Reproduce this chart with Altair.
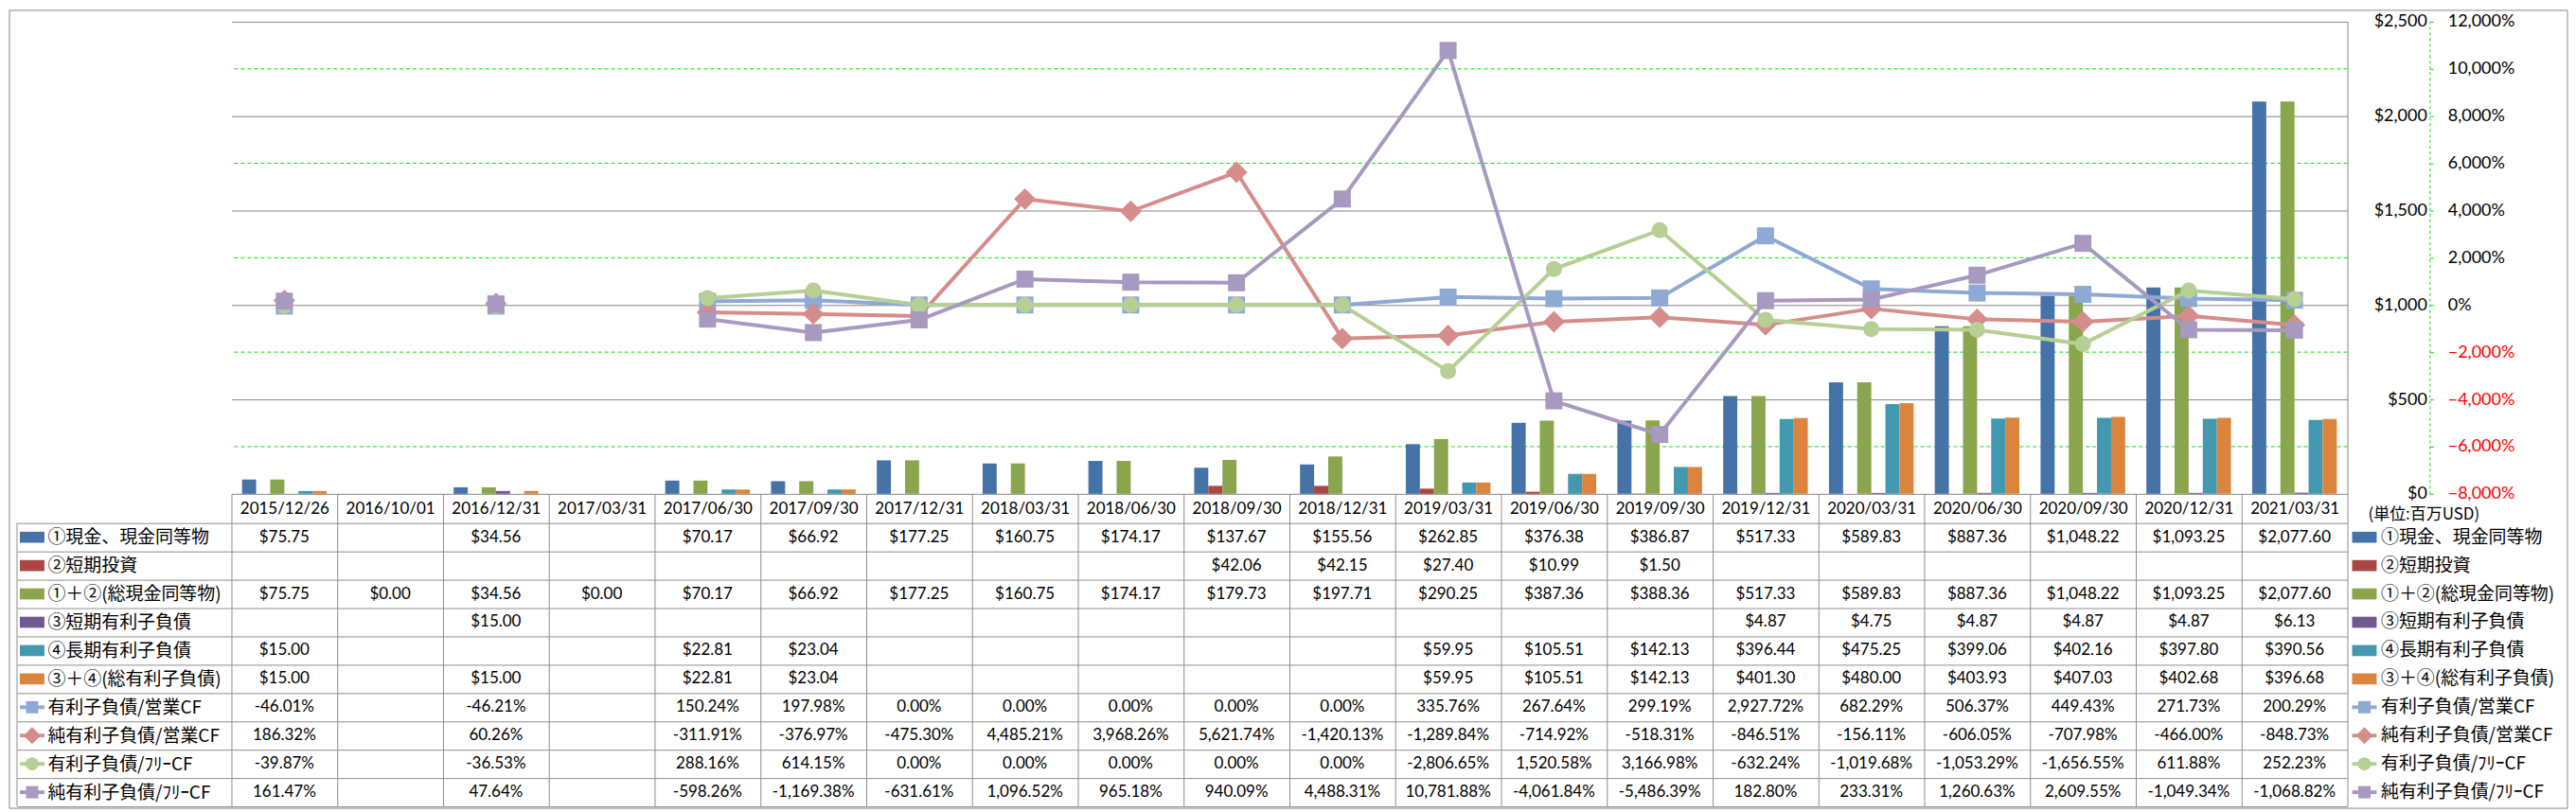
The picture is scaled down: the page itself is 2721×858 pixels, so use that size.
import altair as alt
import pandas as pd

# ---------------- data ----------------
dates = ["2015/12/26", "2016/10/01", "2016/12/31", "2017/03/31", "2017/06/30",
         "2017/09/30", "2017/12/31", "2018/03/31", "2018/06/30", "2018/09/30",
         "2018/12/31", "2019/03/31", "2019/06/30", "2019/09/30", "2019/12/31",
         "2020/03/31", "2020/06/30", "2020/09/30", "2020/12/31", "2021/03/31"]

cash = [75.75, None, 34.56, None, 70.17, 66.92, 177.25, 160.75, 174.17, 137.67,
        155.56, 262.85, 376.38, 386.87, 517.33, 589.83, 887.36, 1048.22, 1093.25, 2077.60]
st_invest = [None, None, None, None, None, None, None, None, None, 42.06,
             42.15, 27.40, 10.99, 1.50, None, None, None, None, None, None]
total_cash = [75.75, 0.00, 34.56, 0.00, 70.17, 66.92, 177.25, 160.75, 174.17, 179.73,
              197.71, 290.25, 387.36, 388.36, 517.33, 589.83, 887.36, 1048.22, 1093.25, 2077.60]
st_debt = [None, None, 15.00, None, None, None, None, None, None, None,
           None, None, None, None, 4.87, 4.75, 4.87, 4.87, 4.87, 6.13]
lt_debt = [15.00, None, None, None, 22.81, 23.04, None, None, None, None,
           None, 59.95, 105.51, 142.13, 396.44, 475.25, 399.06, 402.16, 397.80, 390.56]
total_debt = [15.00, None, 15.00, None, 22.81, 23.04, None, None, None, None,
              None, 59.95, 105.51, 142.13, 401.30, 480.00, 403.93, 407.03, 402.68, 396.68]

debt_ocf = [-46.01, None, -46.21, None, 150.24, 197.98, 0.00, 0.00, 0.00, 0.00,
            0.00, 335.76, 267.64, 299.19, 2927.72, 682.29, 506.37, 449.43, 271.73, 200.29]
net_debt_ocf = [186.32, None, 60.26, None, -311.91, -376.97, -475.30, 4485.21, 3968.26, 5621.74,
                -1420.13, -1289.84, -714.92, -518.31, -846.51, -156.11, -606.05, -707.98, -466.00, -848.73]
debt_fcf = [-39.87, None, -36.53, None, 288.16, 614.15, 0.00, 0.00, 0.00, 0.00,
            0.00, -2806.65, 1520.58, 3166.98, -632.24, -1019.68, -1053.29, -1656.55, 611.88, 252.23]
net_debt_fcf = [161.47, None, 47.64, None, -598.26, -1169.38, -631.61, 1096.52, 965.18, 940.09,
                4488.31, 10781.88, -4061.84, -5486.39, 182.80, 233.31, 1260.63, 2609.55, -1049.34, -1068.82]

bar_names = ["①現金、現金同等物", "②短期投資", "①＋②(総現金同等物)",
             "③短期有利子負債", "④長期有利子負債", "③＋④(総有利子負債)"]
line_names = ["有利子負債/営業CF", "純有利子負債/営業CF", "有利子負債/ﾌﾘｰCF", "純有利子負債/ﾌﾘｰCF"]
bar_series = [cash, st_invest, total_cash, st_debt, lt_debt, total_debt]
line_series = [debt_ocf, net_debt_ocf, debt_fcf, net_debt_fcf]

usd_ticks = [0, 500, 1000, 1500, 2000, 2500]
pct_ticks = [-8000, -6000, -4000, -2000, 0, 2000, 4000, 6000, 8000, 10000, 12000]
pct_dashed_grid = [-6000, -2000, 2000, 6000, 10000]

# ---------------- styles ----------------
bar_colors = ["#4572A7", "#AA4643", "#89A54E", "#71588F", "#4198AF", "#DB843D"]
line_colors = ["#8EA9D4", "#D58D8B", "#B6CF94", "#A799BF"]
line_shapes = ["square", "diamond", "circle", "square"]
line_sizes = [324, 529, 289, 324]
legend_sizes = [169, 324, 196, 169]
GRID = "#868686"
TBL = "#8E8E8E"
GREEN = "#00E600"
NUMFONT = "Lato"
JPFONT = "Noto Sans CJK JP"
W = 2240
H = 500
ROWH = 30
HEADER = 31

rows = bar_names + line_names
n_rows = len(rows)
BAR_PATH = "M-1,-0.45L1,-0.45L1,0.45L-1,0.45Z"
LINE_PATH = "M-1,-0.15L1,-0.15L1,0.15L-1,0.15Z"
row_paths = [BAR_PATH] * len(bar_names) + [LINE_PATH] * len(line_names)
row_colors = bar_colors + line_colors

# ---------------- top chart ----------------
bar_records = []
for name, vals in zip(bar_names, bar_series):
    for d, v in zip(dates, vals):
        if v is not None:
            bar_records.append({"date": d, "series": name, "value": v})
bar_df = pd.DataFrame(bar_records)

x_top = alt.X("date:N",
              scale=alt.Scale(type="band", domain=dates, paddingInner=0.2, paddingOuter=0.1),
              axis=None)

usd_axis = alt.Axis(orient="right", values=usd_ticks,
                    labelExpr="'$' + format(datum.value, ',')",
                    ticks=False, domain=True, domainColor=GRID, domainWidth=1,
                    grid=True, gridColor=GRID, gridWidth=1,
                    labelAlign="right", labelPadding=84, labelBaseline="middle",
                    labelFont=NUMFONT, labelFontSize=18, labelColor="#000000",
                    labelLimit=300, title=None)

pct_scale = alt.Scale(domain=[-8000, 12000], nice=False, zero=False)
pct_axis = alt.Axis(orient="right", offset=87, values=pct_ticks,
                    labelExpr="format(datum.value, ',') + '%'",
                    labelColor=alt.ExprRef(expr="datum.value < 0 ? '#FF0000' : '#000000'"),
                    domain=True, domainColor=GREEN, domainDash=[3, 3], domainWidth=1,
                    ticks=True, tickColor=GREEN, tickSize=4, grid=False,
                    labelPadding=15, labelAlign="left", labelBaseline="middle",
                    labelFont=NUMFONT, labelFontSize=18, labelLimit=300, title=None)

green_grid = alt.Chart(pd.DataFrame({"pct": pct_dashed_grid})).mark_rule(
    color=GREEN, strokeDash=[4, 3], strokeWidth=1
).encode(y=alt.Y("pct:Q", scale=pct_scale, axis=None))

bars = alt.Chart(bar_df).mark_bar().encode(
    x=x_top,
    xOffset=alt.XOffset("series:N", scale=alt.Scale(domain=bar_names, paddingInner=0, paddingOuter=0)),
    y=alt.Y("value:Q", scale=alt.Scale(domain=[0, 2500], nice=False), axis=usd_axis),
    color=alt.Color("series:N", scale=alt.Scale(domain=bar_names, range=bar_colors), legend=None),
)

pct_layers = []
for name, vals, col, shp, sz in zip(line_names, line_series, line_colors, line_shapes, line_sizes):
    recs = []
    seg = 0
    prev_ok = False
    for d, v in zip(dates, vals):
        if v is None:
            if prev_ok:
                seg += 1
            prev_ok = False
            continue
        recs.append({"date": d, "value": v, "seg": seg})
        prev_ok = True
    df = pd.DataFrame(recs)
    ln = alt.Chart(df).mark_line(color=col, strokeWidth=4).encode(
        x=x_top,
        y=alt.Y("value:Q", scale=pct_scale, axis=pct_axis),
        detail="seg:N",
    )
    pt = alt.Chart(df).mark_point(shape=shp, size=sz, filled=True, color=col, opacity=1).encode(
        x=x_top,
        y=alt.Y("value:Q", scale=pct_scale, axis=pct_axis),
    )
    pct_layers += [ln, pt]

pct_group = alt.layer(*pct_layers)

top = alt.layer(green_grid, bars, pct_group).resolve_scale(y="independent").properties(
    width=W, height=H
)

# ---------------- table ----------------
def fmt_usd(v):
    return "$" + f"{v:,.2f}"

def fmt_pct(v):
    return f"{v:,.2f}%"

cell_records = []
for name, vals in zip(bar_names, bar_series):
    for d, v in zip(dates, vals):
        if v is not None:
            cell_records.append({"date": d, "row": name, "txt": fmt_usd(v)})
for name, vals in zip(line_names, line_series):
    for d, v in zip(dates, vals):
        if v is not None:
            cell_records.append({"date": d, "row": name, "txt": fmt_pct(v)})
cell_df = pd.DataFrame(cell_records)

x_tbl = alt.X("date:N",
              scale=alt.Scale(type="band", domain=dates, paddingInner=0, paddingOuter=0),
              axis=alt.Axis(orient="top", tickBand="extent", tickSize=HEADER, tickColor=TBL, tickWidth=1,
                            domain=False, grid=True, gridColor=TBL, gridWidth=1,
                            labelPadding=-HEADER / 2, labelBaseline="middle", labelAngle=0,
                            labelFont=NUMFONT, labelFontSize=17, labelColor="#000000",
                            labelLimit=300, title=None))

y_tbl_scale = alt.Scale(type="band", domain=rows, paddingInner=0, paddingOuter=0)
left_axis = alt.Axis(orient="left", tickBand="extent", tickSize=227, tickColor=TBL, tickWidth=1,
                     domain=False, grid=True, gridColor=TBL, gridWidth=1,
                     labelAlign="left", labelPadding=-32, labelBaseline="middle",
                     labelFont=JPFONT, labelFontSize=19, labelColor="#000000",
                     labelLimit=400, title=None)
right_axis = alt.Axis(orient="right", domain=False, ticks=False, grid=False,
                      labelAlign="left", labelPadding=35, labelBaseline="middle",
                      labelFont=JPFONT, labelFontSize=19, labelColor="#000000",
                      labelLimit=400, title=None)

cells = alt.Chart(cell_df).mark_text(font=NUMFONT, fontSize=17, color="#000000").encode(
    x=x_tbl,
    y=alt.Y("row:N", scale=y_tbl_scale, axis=left_axis),
    text="txt:N",
)

sym_df = pd.DataFrame({"row": rows})
shape_enc = alt.Shape("row:N", scale=alt.Scale(domain=rows, range=row_paths), legend=None)
color_enc = alt.Color("row:N", scale=alt.Scale(domain=rows, range=row_colors), legend=None)


def symbol_layers(xpos, axis):
    base = alt.Chart(sym_df).mark_point(filled=True, opacity=1, size=676).encode(
        x=alt.value(xpos),
        y=alt.Y("row:N", scale=y_tbl_scale, axis=axis),
        shape=shape_enc,
        color=color_enc,
    )
    out = [base]
    for name, col, shp, sz in zip(line_names, line_colors, line_shapes, legend_sizes):
        mk = alt.Chart(pd.DataFrame({"row": [name]})).mark_point(
            shape=shp, size=sz, filled=True, opacity=1, color=col
        ).encode(
            x=alt.value(xpos),
            y=alt.Y("row:N", scale=y_tbl_scale, axis=axis),
        )
        out.append(mk)
    return out


one = pd.DataFrame({"k": [0]})
border = alt.Chart(one).mark_rule(color=TBL, strokeWidth=1).encode(
    x=alt.value(-227), y=alt.value(0), y2=alt.value(ROWH * n_rows)
)
unit = alt.Chart(one).mark_text(
    text="(単位:百万USD)", align="left", baseline="middle", font=JPFONT, fontSize=17, color="#000000"
).encode(x=alt.value(W + 22), y=alt.value(-9))
# outer chart-area frame (decoration)
frame = alt.Chart(one).mark_rect(fillOpacity=0, stroke="#888888", strokeWidth=1).encode(
    x=alt.value(-235), x2=alt.value(W + 233),
    y=alt.value(-(HEADER + H + 12)), y2=alt.value(ROWH * n_rows + 2),
)

left_group = alt.layer(cells, *symbol_layers(-211, left_axis), border, unit, frame)
right_group = alt.layer(*symbol_layers(W + 18, right_axis))

table = alt.layer(left_group, right_group).resolve_scale(y="independent").properties(
    width=W, height=ROWH * n_rows
)

chart = alt.vconcat(top, table, spacing=HEADER, bounds="flush").resolve_scale(
    x="independent", y="independent", color="independent", shape="independent"
).properties(
    padding={"left": 1, "top": 1, "right": 0, "bottom": 0},
    background="white",
).configure_view(stroke=None)

chart.save("out.html", embed_options={"renderer": "svg", "actions": False})
